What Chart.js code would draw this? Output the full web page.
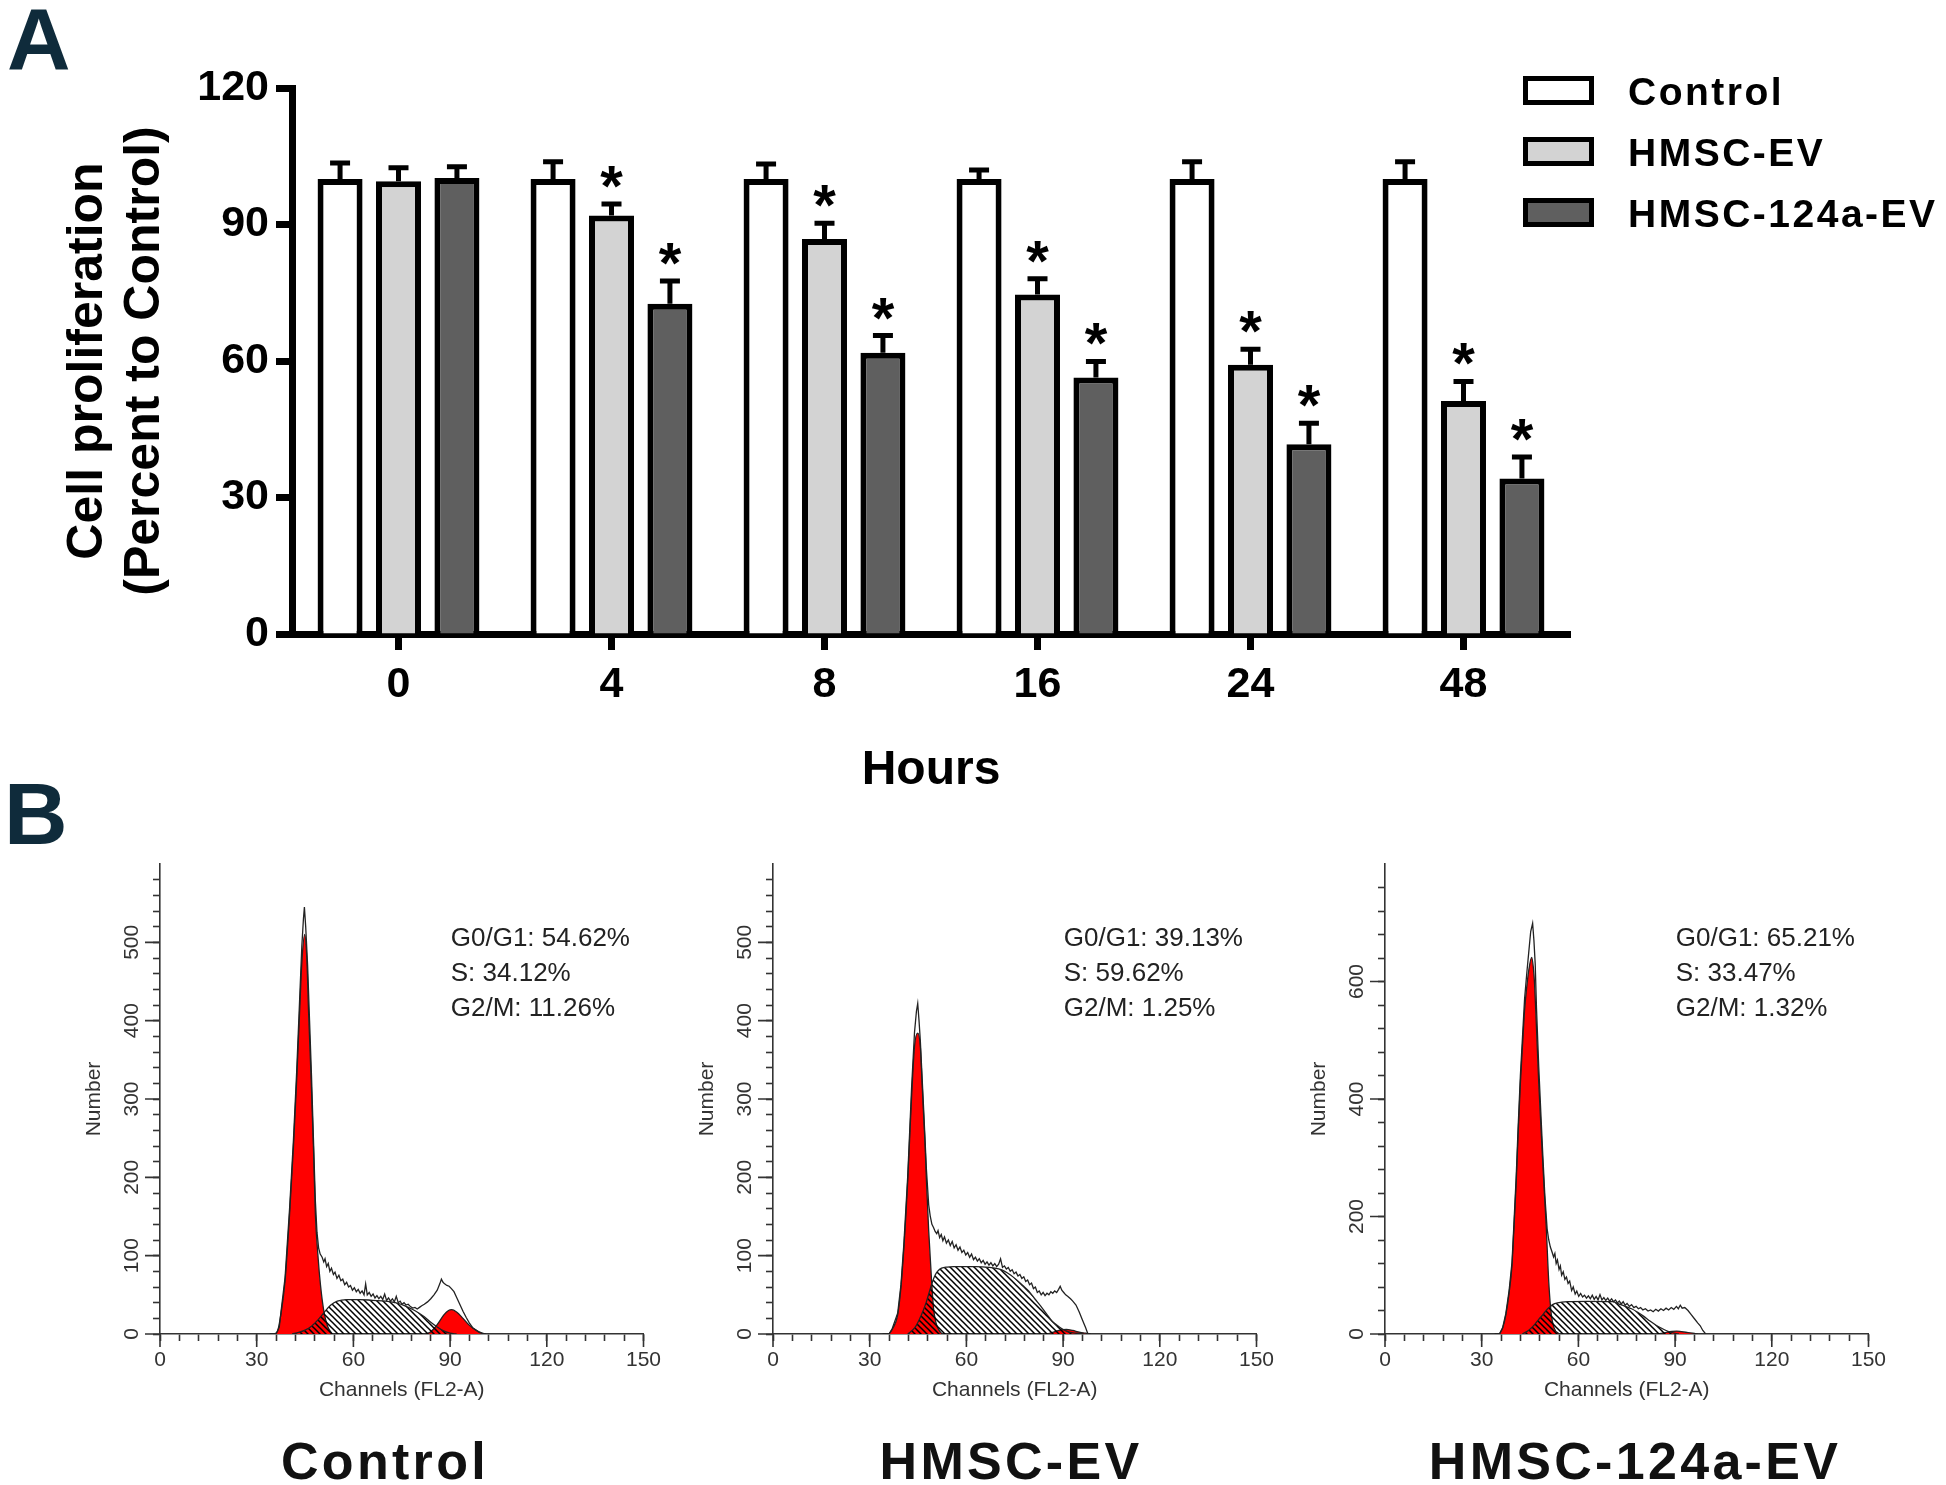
<!DOCTYPE html>
<html>
<head>
<meta charset="utf-8">
<script src="https://cdn.jsdelivr.net/npm/chart.js@4.4.1/dist/chart.umd.min.js"></script>
<style>
  body { margin: 0; width: 1946px; height: 1485px; background: #fff; position: relative; overflow: hidden;
         font-family: "Liberation Sans", Arial, sans-serif; }
  canvas { position: absolute; }
  .panel { position: absolute; font-weight: bold; font-size: 88px; line-height: 88px; color: #0f2b3b; }
  .legbox { position: absolute; left: 1523px; width: 71px; height: 29px; box-sizing: border-box; border: 5px solid #000; }
  .legtxt { position: absolute; left: 1628px; font-weight: bold; font-size: 39px; line-height: 39px; letter-spacing: 2.5px; color: #000; white-space: nowrap; }
  .name { position: absolute; top: 1435px; width: 600px; text-align: center; font-weight: bold; font-size: 52px;
          line-height: 52px; letter-spacing: 3.3px; color: #111; white-space: nowrap; }
</style>
</head>
<body>
<div class="panel" style="left:7px;top:-5px">A</div>
<div class="panel" style="left:4px;top:770px">B</div>

<canvas id="graficoProlif" width="1946" height="800" style="left:0;top:0"></canvas>
<canvas id="histControl" width="640" height="640" style="left:50px;top:800px"></canvas>
<canvas id="histEV" width="640" height="640" style="left:663px;top:800px"></canvas>
<canvas id="histMir" width="640" height="640" style="left:1275px;top:800px"></canvas>

<div id="legenda"></div>
<div class="name" style="left:85px">Control</div>
<div class="name" style="left:711px">HMSC-EV</div>
<div class="name" style="left:1335px">HMSC-124a-EV</div>

<script>
// painel A - proliferacao (% do controle)
const hours = ['0', '4', '8', '16', '24', '48'];
const seriesNames = ['Control', 'HMSC-EV', 'HMSC-124a-EV'];
const seriesColors = ['#ffffff', '#d3d3d3', '#5f5f5f'];
const controlMean = [100, 100, 100, 100, 100, 100];
const controlSem = [3.5, 3.8, 3.3, 2.0, 3.8, 3.8];
const evMean = [99.5, 92, 86.8, 74.6, 59.2, 51.2];
const evSem = [3.0, 2.5, 3.5, 3.5, 3.4, 4.3];
const mirMean = [100.2, 72.6, 61.8, 56.4, 41.7, 34.2];
const mirSem = [2.5, 5.0, 3.8, 3.5, 4.6, 4.7];
const controlSig = [false, false, false, false, false, false];
const evSig = [false, true, true, true, true, true];
const mirSig = [false, true, true, true, true, true];

// painel B - ciclo celular (channel, count)
const ctrlG1 = [[35.5,0],[36.5,4],[37.5,25],[38.8,68],[40.2,153],[41.4,239],[42.4,324],[43.3,410],[44,474],[44.9,510],[45.6,474],[46.1,410],[46.9,324],[47.6,239],[48.2,153],[49,100],[49.8,62],[50.8,30],[52,10],[53.5,0]];
const ctrlS = [[41,0],[43,2],[45,5],[47,10],[49,18],[51,28],[53,37],[55,42],[58,44],[62,44],[66,43],[70,42],[73,40],[76,36],[79,30],[82,22],[84,15],[86,9],[88,4],[90,1],[92,0]];
const ctrlG2 = [[82.5,0],[84,3],[86,12],[88,24],[89.5,30],[90.5,31],[92,28],[94,20],[96,11],[98,5],[100,1],[101,0]];
const ctrlOutline = [[34,0],[36,0],[37,9],[37.5,27],[38.8,72],[40.2,160],[41.4,248],[42.4,335],[43.3,425],[44,495],[44.5,530],[44.8,545],[45.2,520],[45.8,470],[46.4,400],[47,330],[47.6,250],[48.2,170],[48.7,130],[49.2,110],[49.7,102],[50.3,98],[50.8,92],[51.2,96],[51.7,86],[52.2,90],[52.7,80],[53.2,84],[53.8,76],[54.3,79],[54.9,71],[55.5,75],[56.1,68],[56.7,70],[57.3,63],[57.9,66],[58.5,60],[59.1,62],[59.7,56],[60.3,59],[60.9,54],[61.5,57],[62.1,52],[62.7,55],[63.3,50],[63.8,64],[64.3,50],[64.9,53],[65.5,48],[66.1,51],[66.7,46],[67.3,49],[67.9,45],[68.5,48],[69.1,44],[69.7,51],[70.3,43],[70.9,46],[71.5,42],[72.1,45],[72.7,41],[73.3,48],[73.9,40],[74.5,42],[75.1,38],[75.7,40],[76.3,37],[77,38],[77.7,35],[78.4,33],[79.1,34],[79.8,32],[80.5,34],[81.2,36],[82,38],[83,41],[84,45],[85,50],[86,56],[86.8,64],[87.3,70],[87.8,66],[88.3,64],[89,62],[89.7,61],[90.4,58],[91.2,54],[92,47],[93,38],[94,29],[95,21],[96,14],[97,8],[98,5],[99,2],[100,0.5],[101,0]];

const evG1 = [[36,0],[37,6],[38.7,25],[39.7,60],[40.6,110],[41.2,150],[41.8,196],[42.4,250],[43,303],[43.9,367],[44.9,384],[45.7,367],[46.2,325],[46.7,282],[47.2,240],[47.6,196],[48.3,132],[49.2,68],[49.8,33],[50.6,14],[51.5,5],[52.5,0]];
const evS = [[41.8,0],[44,8],[46.1,25],[47.5,40],[48.6,55],[49.5,67],[50.4,76],[51.3,81],[52.3,84],[54,85.5],[56,86],[59.6,86],[63,86],[67,85],[70,83],[71.9,80],[73.8,75],[75.6,69],[77.5,62],[79.3,55],[81.2,45],[83,36],[84.8,26],[86.7,16],[88.5,10],[90.4,5],[92.2,2],[94,1],[96.5,0]];
const evG2 = [[85,0],[87,2.5],[89,5],[91,6],[93,4.5],[95,2.5],[97,1],[98.5,0]];
const evOutline = [[34,0],[36,0],[37,7],[38.7,27],[39.7,63],[40.6,115],[41.8,202],[43,315],[43.9,385],[44.5,412],[44.9,422],[45.3,400],[45.7,375],[46.7,290],[47.6,210],[48.3,165],[48.8,150],[49.3,140],[49.8,136],[50.3,131],[50.8,128],[51.2,132],[51.7,123],[52.2,127],[52.7,119],[53.2,124],[53.8,116],[54.4,120],[55,113],[55.6,118],[56.2,110],[56.8,114],[57.4,107],[58,111],[58.6,104],[59.2,107],[59.8,101],[60.4,104],[61,98],[61.6,102],[62.2,95],[62.8,98],[63.4,93],[64,96],[64.6,91],[65.2,94],[65.8,89],[66.4,92],[67,88],[67.6,91],[68.2,87],[68.8,90],[69.4,86],[70,89],[70.6,96],[71.2,85],[71.8,87],[72.4,83],[73,85],[73.6,80],[74.2,82],[74.8,77],[75.4,79],[76,74],[76.6,76],[77.2,71],[77.8,73],[78.4,67],[79,69],[79.6,63],[80.2,65],[80.8,58],[81.4,60],[82,53],[82.6,55],[83.2,50],[83.8,53],[84.4,49],[85,52],[85.6,50],[86.2,54],[86.8,52],[87.4,55],[88,53],[88.6,57],[89.1,61],[89.6,56],[90.2,53],[90.8,50],[91.5,48],[92.3,45],[93,42],[94,37],[95,28],[96,18],[97,8],[97.7,0]];

const mirG1 = [[35.5,0],[36.5,10],[37.5,33],[38.5,70],[39.4,117],[40,180],[40.7,258],[41.3,340],[42,427],[42.7,495],[43.3,551],[44,592],[44.6,619],[45.5,641],[46,625],[46.4,596],[47,520],[47.7,427],[48.4,350],[49,286],[49.5,235],[50,185],[50.8,89],[51.6,33],[52.5,10],[54,0]];
const mirS = [[42.6,0],[44.5,6],[46.4,16],[47.7,25],[49,33],[50,40],[50.9,45],[52,50],[53.5,53],[56.6,55],[63,55.5],[70.7,55],[72.6,51],[74.6,47],[76.5,43],[78.4,37],[80.3,30],[82.2,22],[84.1,15],[86.1,9],[87.4,5.5],[88.6,3],[90,1],[91.2,0]];
const mirG2 = [[85,0],[87,2.5],[89,4.5],[90.5,5],[92,4],[94,2.5],[96,1],[97,0]];
const mirOutline = [[34,0],[35.5,0],[36.5,11],[37.5,35],[38.5,74],[39.4,122],[40,188],[40.7,268],[41.3,352],[42,440],[42.7,510],[43.3,570],[44,615],[44.6,650],[45.2,685],[45.8,699],[46.2,670],[46.6,630],[47,555],[47.7,455],[48.4,370],[49,300],[49.6,235],[50.3,179],[50.8,160],[51.3,148],[51.8,140],[52.3,131],[52.7,137],[53.1,120],[53.5,126],[54,110],[54.4,116],[54.8,100],[55.3,106],[55.8,93],[56.3,97],[56.8,86],[57.3,90],[57.9,74],[58.4,80],[59,68],[59.5,73],[60.1,64],[60.7,69],[61.3,63],[61.9,66],[62.5,61],[63.1,65],[63.7,60],[64.3,66],[64.9,59],[65.5,64],[66.1,58],[66.7,67],[67.3,58],[67.9,62],[68.5,57],[69.1,61],[69.7,56],[70.3,60],[70.9,55],[71.5,58],[72.1,53],[72.7,56],[73.3,51],[73.9,55],[74.5,49],[75.1,52],[75.8,47],[76.5,50],[77.2,45],[77.9,47],[78.6,43],[79.3,45],[80,41],[80.8,43],[81.6,39],[82.4,41],[83.2,38],[84,42],[84.8,39],[85.6,43],[86.4,40],[87.2,44],[88,41],[88.8,45],[89.6,42],[90.4,47],[91,43],[91.6,49],[92.2,44],[93,45],[94,40],[95,33],[96,26],[97,19],[97.8,14],[98.6,6],[99.5,0]];

const g1Pct = [54.62, 39.13, 65.21];
const sPct = [34.12, 59.62, 33.47];
const g2Pct = [11.26, 1.25, 1.32];

const FONT = '"Liberation Sans", Arial, sans-serif';
Chart.defaults.font.family = FONT;

// legenda em html (fica por cima da area do grafico)
const legenda = document.getElementById('legenda');
seriesNames.forEach(function(nome, i) {
    const centro = 90.5 + i * 61;
    const caixa = document.createElement('div');
    caixa.className = 'legbox';
    caixa.style.top = (centro - 14.5) + 'px';
    caixa.style.background = seriesColors[i];
    legenda.appendChild(caixa);
    const txt = document.createElement('div');
    txt.className = 'legtxt';
    txt.style.top = (centro - 19) + 'px';
    txt.textContent = nome;
    legenda.appendChild(txt);
});

const errorBars = {
    id: 'errorBars',
    afterDatasetsDraw(chart) {
        const ctx = chart.ctx;
        const y = chart.scales.y;
        ctx.save();
        ctx.strokeStyle = '#000';
        ctx.fillStyle = '#000';
        ctx.lineWidth = 5;
        chart.data.datasets.forEach(function(ds, i) {
            chart.getDatasetMeta(i).data.forEach(function(bar, j) {
                const topo = y.getPixelForValue(ds.data[j] + ds.sem[j]);
                ctx.beginPath();
                ctx.moveTo(bar.x, bar.y);
                ctx.lineTo(bar.x, topo);
                ctx.moveTo(bar.x - 10, topo);
                ctx.lineTo(bar.x + 10, topo);
                ctx.stroke();
                if (ds.sig[j]) {
                    ctx.font = 'bold 58px ' + FONT;
                    ctx.textAlign = 'center';
                    ctx.textBaseline = 'alphabetic';
                    ctx.fillText('*', bar.x, topo + 2);
                }
            });
        });
        ctx.restore();
    }
};

new Chart(document.getElementById('graficoProlif'), {
    type: 'bar',
    data: {
        labels: hours,
        datasets: [
            { label: seriesNames[0], data: controlMean, sem: controlSem, sig: controlSig, backgroundColor: seriesColors[0] },
            { label: seriesNames[1], data: evMean, sem: evSem, sig: evSig, backgroundColor: seriesColors[1] },
            { label: seriesNames[2], data: mirMean, sem: mirSem, sig: mirSig, backgroundColor: seriesColors[2] }
        ]
    },
    options: {
        responsive: false,
        animation: false,
        devicePixelRatio: 1,
        layout: { padding: { left: 0, top: 88, right: 376, bottom: 0 } },
        datasets: { bar: { borderColor: '#000', borderWidth: 6, categoryPercentage: 0.823, barPercentage: 0.77 } },
        plugins: { legend: { display: false }, tooltip: { enabled: false } },
        scales: {
            x: {
                z: 1,
                grid: { offset: false, drawOnChartArea: false, tickLength: 16, tickWidth: 7, tickColor: '#000' },
                border: { width: 7, color: '#000' },
                ticks: { color: '#000', padding: 9, font: { size: 43, weight: 'bold' } },
                title: { display: true, text: 'Hours', color: '#000', font: { size: 48, weight: 'bold', lineHeight: 1.2 }, padding: { top: 0, bottom: 0 } },
                afterFit(scale) { scale.height = 166; }
            },
            y: {
                z: 1,
                min: 0, max: 120,
                grid: { drawOnChartArea: false, tickLength: 16, tickWidth: 7, tickColor: '#000' },
                border: { width: 7, color: '#000' },
                ticks: { stepSize: 30, color: '#000', padding: 7, font: { size: 43, weight: 'bold' } },
                title: { display: true, text: ['Cell proliferation', '(Percent to Control)'], color: '#000',
                         font: { size: 50, weight: 'bold', lineHeight: 1.14 }, padding: { top: 60, bottom: 0 } },
                afterFit(scale) { scale.width = 292; }
            }
        }
    },
    plugins: [errorBars]
});

function hachura(ctx) {
    const tile = document.createElement('canvas');
    tile.width = 6; tile.height = 6;
    const g = tile.getContext('2d');
    g.strokeStyle = '#000';
    g.lineWidth = 1.5;
    g.beginPath();
    g.moveTo(-1, -1); g.lineTo(7, 7);
    g.moveTo(-1, 5); g.lineTo(1, 7);
    g.moveTo(5, -1); g.lineTo(7, 1);
    g.stroke();
    return ctx.createPattern(tile, 'repeat');
}

const histExtras = {
    id: 'histExtras',
    afterDraw(chart, args, opts) {
        const ctx = chart.ctx;
        const a = chart.chartArea;
        const x = chart.scales.x, y = chart.scales.y;
        ctx.save();
        ctx.strokeStyle = '#333';
        ctx.lineWidth = 1.6;
        ctx.beginPath();
        x.ticks.forEach(function(t) {
            if (t.value % 30 === 0) {
                const px = x.getPixelForValue(t.value);
                ctx.moveTo(px, a.bottom); ctx.lineTo(px, a.bottom + 13);
            }
        });
        y.ticks.forEach(function(t) {
            if (t.value % opts.yMajor === 0) {
                const py = y.getPixelForValue(t.value);
                ctx.moveTo(a.left - 15, py); ctx.lineTo(a.left, py);
            }
        });
        ctx.stroke();
        ctx.font = '26px ' + FONT;
        ctx.fillStyle = '#222';
        ctx.textBaseline = 'middle';
        ctx.textAlign = 'left';
        opts.lines.forEach(function(t, i) {
            ctx.fillText(t, x.getPixelForValue(90.2), a.top + 75 + i * 35);
        });
        ctx.restore();
    }
};

function pts(arr) { return arr.map(function(p) { return { x: p[0], y: p[1] }; }); }

function histograma(id, g1, s, g2, contorno, yMax, yStep, yMajor, k) {
    const canvas = document.getElementById(id);
    const ctx = canvas.getContext('2d');
    const linhas = ['G0/G1: ' + g1Pct[k].toFixed(2) + '%', 'S: ' + sPct[k].toFixed(2) + '%', 'G2/M: ' + g2Pct[k].toFixed(2) + '%'];
    new Chart(ctx, {
        type: 'line',
        data: {
            datasets: [
                { data: pts(contorno), borderColor: '#222', borderWidth: 1.3, fill: false, tension: 0, order: 1 },
                { data: pts(s), borderColor: '#222', borderWidth: 1.3, backgroundColor: hachura(ctx), fill: 'origin', cubicInterpolationMode: 'monotone', order: 2 },
                { data: pts(g2), borderColor: '#222', borderWidth: 1.3, backgroundColor: '#ff0000', fill: 'origin', cubicInterpolationMode: 'monotone', order: 3 },
                { data: pts(g1), borderColor: '#222', borderWidth: 1.3, backgroundColor: '#ff0000', fill: 'origin', cubicInterpolationMode: 'monotone', order: 4 }
            ]
        },
        options: {
            responsive: false,
            animation: false,
            devicePixelRatio: 1,
            elements: { point: { radius: 0 } },
            layout: { padding: { left: 0, top: 64, right: 46.5, bottom: 0 } },
            plugins: { legend: { display: false }, tooltip: { enabled: false }, histExtras: { lines: linhas, yMajor: yMajor } },
            scales: {
                x: {
                    type: 'linear', z: 1, min: 0, max: 150,
                    grid: { drawOnChartArea: false, tickLength: 7, tickWidth: 1.6, tickColor: '#333' },
                    border: { width: 1.6, color: '#333' },
                    ticks: { stepSize: 6, autoSkip: false, maxRotation: 0, color: '#333', padding: 7, font: { size: 21 },
                             callback: function(v) { return v % 30 === 0 ? v : ''; } },
                    title: { display: true, text: 'Channels (FL2-A)', color: '#333', font: { size: 21, lineHeight: 1.2 }, padding: { top: 0, bottom: 37 } },
                    afterFit(scale) { scale.height = 106; }
                },
                y: {
                    z: 1, min: 0, max: yMax,
                    grid: { drawOnChartArea: false, tickLength: 7, tickWidth: 1.6, tickColor: '#333' },
                    border: { width: 1.6, color: '#333' },
                    ticks: { stepSize: yStep, autoSkip: false, minRotation: 90, maxRotation: 90, crossAlign: 'center',
                             color: '#333', padding: 3, font: { size: 21 },
                             callback: function(v) { return v % yMajor === 0 ? v : ''; } },
                    title: { display: true, text: 'Number', color: '#333', font: { size: 21, lineHeight: 1.2 }, padding: { top: 32, bottom: 0 } },
                    afterBuildTicks(scale) { scale.ticks = scale.ticks.filter(function(t) { return t.value < scale.max; }); },
                    afterFit(scale) { scale.width = 110; }
                }
            }
        },
        plugins: [histExtras]
    });
}

histograma('histControl', ctrlG1, ctrlS, ctrlG2, ctrlOutline, 600, 20, 100, 0);
histograma('histEV', evG1, evS, evG2, evOutline, 600, 20, 100, 1);
histograma('histMir', mirG1, mirS, mirG2, mirOutline, 800, 40, 200, 2);
</script>
</body>
</html>
